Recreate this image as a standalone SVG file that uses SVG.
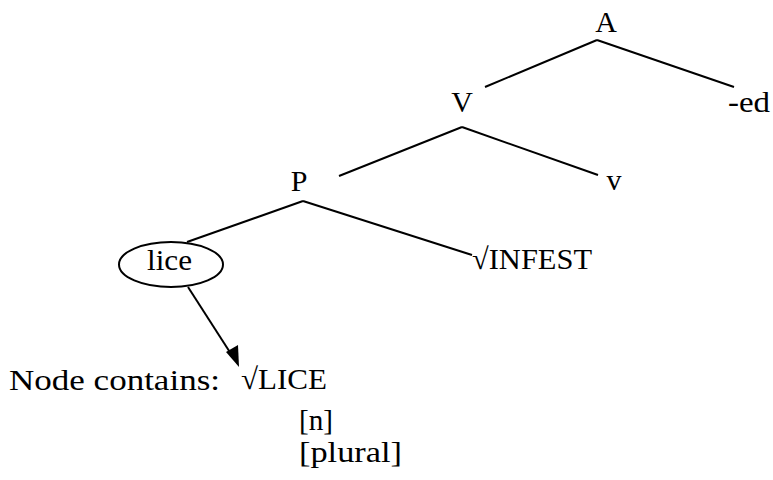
<svg xmlns="http://www.w3.org/2000/svg" width="773" height="480" viewBox="0 0 773 480">
  <defs>
    <style>
      text { font-family: "Liberation Serif", "Times New Roman", serif; font-size: 30px; fill: #000; }
      .mid { text-anchor: middle; }
      .edge { stroke: #000; stroke-width: 2; fill: none; }
    </style>
  </defs>
  <rect width="773" height="480" fill="#fff"/>

  <g id="connectors">
    <line class="edge" x1="597" y1="40" x2="485" y2="87"/>
    <line class="edge" x1="597" y1="40" x2="734" y2="87"/>
    <line class="edge" x1="462" y1="127" x2="339" y2="176"/>
    <line class="edge" x1="462" y1="127" x2="598" y2="175"/>
    <line class="edge" x1="303" y1="201" x2="187" y2="242"/>
    <line class="edge" x1="303" y1="201" x2="472" y2="255"/>
    <line class="edge" x1="188" y1="287" x2="233" y2="357"/>
    <path d="M239,367 L226,352 L238,345 Z" fill="#000"/>
  </g>

  <g id="node-A"><text class="mid" x="606" y="32">A</text></g>
  <g id="node-V"><text class="mid" x="462" y="112">V</text></g>
  <g id="node-ed"><text x="728" y="112" textLength="42" lengthAdjust="spacingAndGlyphs">-ed</text></g>
  <g id="node-P"><text class="mid" x="299" y="191">P</text></g>
  <g id="node-v"><text class="mid" x="614" y="190">v</text></g>
  <g id="node-lice">
    <ellipse cx="171" cy="264.5" rx="52" ry="22.5" fill="none" stroke="#000" stroke-width="2"/>
    <text x="147" y="270" textLength="45" lengthAdjust="spacingAndGlyphs">lice</text>
  </g>
  <g id="node-INFEST"><text x="472" y="269" textLength="120" lengthAdjust="spacingAndGlyphs">√INFEST</text></g>
  <g id="node-contains">
    <text x="9" y="390" textLength="211" lengthAdjust="spacingAndGlyphs">Node contains:</text>
    <text x="241" y="389" textLength="86" lengthAdjust="spacingAndGlyphs">√LICE</text>
    <text x="299" y="430" textLength="34" lengthAdjust="spacingAndGlyphs">[n]</text>
    <text x="299" y="462" textLength="103" lengthAdjust="spacingAndGlyphs">[plural]</text>
  </g>
</svg>
